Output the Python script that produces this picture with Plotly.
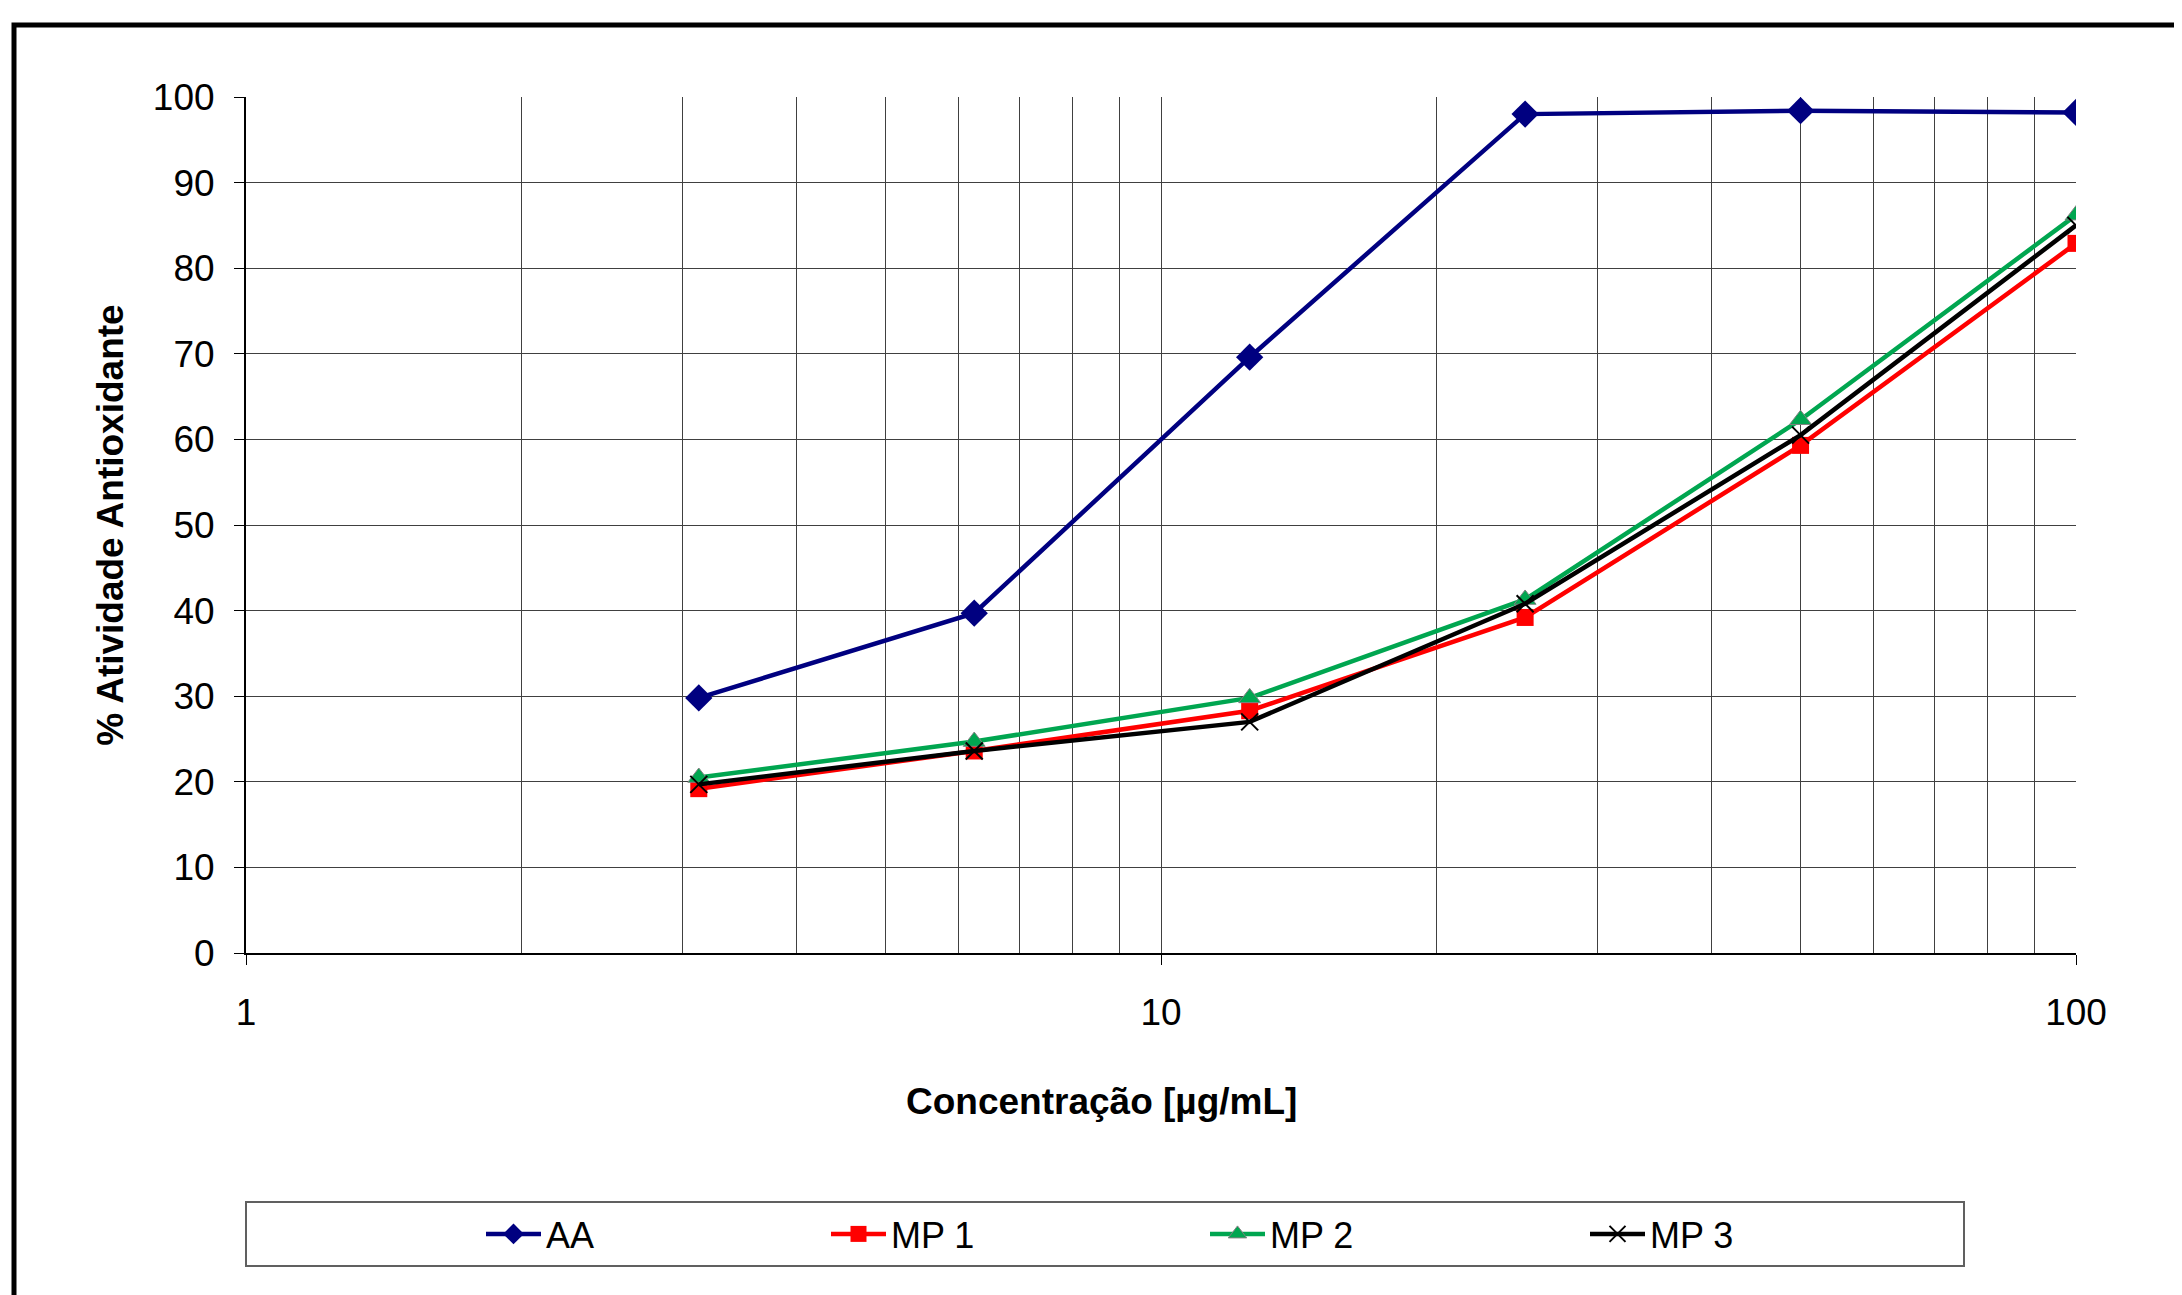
import plotly.graph_objects as go

conc = [3.125, 6.25, 12.5, 25, 50, 100]
aa = [29.8, 39.7, 69.6, 98.0, 98.4, 98.2]
mp1 = [19.2, 23.6, 28.3, 39.2, 59.3, 82.9]
mp2 = [20.5, 24.7, 29.8, 41.3, 62.3, 86.2]
mp3 = [19.7, 23.6, 27.0, 40.8, 60.5, 85.0]
y_ticks = list(range(0, 101, 10))

W, H = 2182, 1295
OFF = 8  # page body margin
L, R, T, B = 246 - OFF, 2076 - OFF, 97 - OFF, 953 - OFF
pw, ph = R - L, B - T

def px_x(x):  # page x -> paper
    return (x - OFF - L) / pw

def px_y(y):  # page y -> paper
    return (B - (y - OFF)) / ph

FONT = "Liberation Sans, Arial, sans-serif"

fig = go.Figure()
series = [
    ("AA", aa, "#000080", "diamond", 21, None, "legend", 481),
    ("MP 1", mp1, "#FF0000", "square", 17, None, "legend2", 826),
    ("MP 2", mp2, "#00A650", "triangle-up", 19, "#808080", "legend3", 1205),
    ("MP 3", mp3, "#000000", "x-thin", 17, "#000000", "legend4", 1585),
]
legends = {}
for name, vals, col, sym, size, lc, lg, lx in series:
    marker = dict(symbol=sym, size=size, color=col)
    if sym == "x-thin":
        marker["line"] = dict(color=lc, width=2)
    elif lc:
        marker["line"] = dict(color=lc, width=1)
    fig.add_trace(go.Scatter(
        x=conc, y=vals, name=name, mode="lines+markers", legend=lg,
        line=dict(color=col, width=4.5), marker=marker,
    ))
    legends[lg] = dict(
        orientation="h", x=px_x(lx), xanchor="left",
        y=px_y(1234), yanchor="middle",
        font=dict(size=36), bgcolor="rgba(0,0,0,0)", borderwidth=0,
        itemwidth=55,
    )

fig.update_layout(
    width=W, height=H,
    margin=dict(l=L, r=W - R, t=T, b=H - B),
    paper_bgcolor="white", plot_bgcolor="white",
    font=dict(family=FONT, size=37, color="black"),
    showlegend=True,
    xaxis=dict(
        type="log", range=[0, 2], dtick=1,
        showgrid=True, gridcolor="#404040", gridwidth=1,
        minor=dict(dtick="D1", showgrid=True, gridcolor="#404040", gridwidth=1, ticks=""),
        showline=True, linecolor="black", linewidth=2,
        ticks="outside", ticklen=10, tickcolor="black",
        ticklabelstandoff=16,
        tickfont=dict(size=37),
        zeroline=False,
    ),
    yaxis=dict(
        range=[0, 100], tickvals=y_ticks,
        showgrid=True, gridcolor="#404040", gridwidth=1,
        showline=True, linecolor="black", linewidth=2,
        ticks="outside", ticklen=10, tickcolor="black",
        ticklabelstandoff=12,
        tickfont=dict(size=37),
        title=dict(text="<b>% Atividade Antioxidante</b>", font=dict(size=37), standoff=18),
        zeroline=False,
    ),
    annotations=[
        dict(text="<b>Concentração [µg/mL]</b>", xref="paper", yref="paper",
             x=px_x(1101), y=px_y(1101), xanchor="center", yanchor="middle",
             showarrow=False, font=dict(size=37)),
    ],
    shapes=[
        dict(type="rect", xref="paper", yref="paper",
             x0=px_x(14), x1=px_x(2300), y0=px_y(1400), y1=px_y(25),
             line=dict(color="black", width=5), fillcolor="rgba(0,0,0,0)", layer="below"),
        dict(type="rect", xref="paper", yref="paper",
             x0=px_x(246), x1=px_x(1964), y0=px_y(1266), y1=px_y(1202),
             line=dict(color="#606060", width=2), fillcolor="rgba(0,0,0,0)"),
    ],
    **legends,
)

fig.write_html("out.html")
